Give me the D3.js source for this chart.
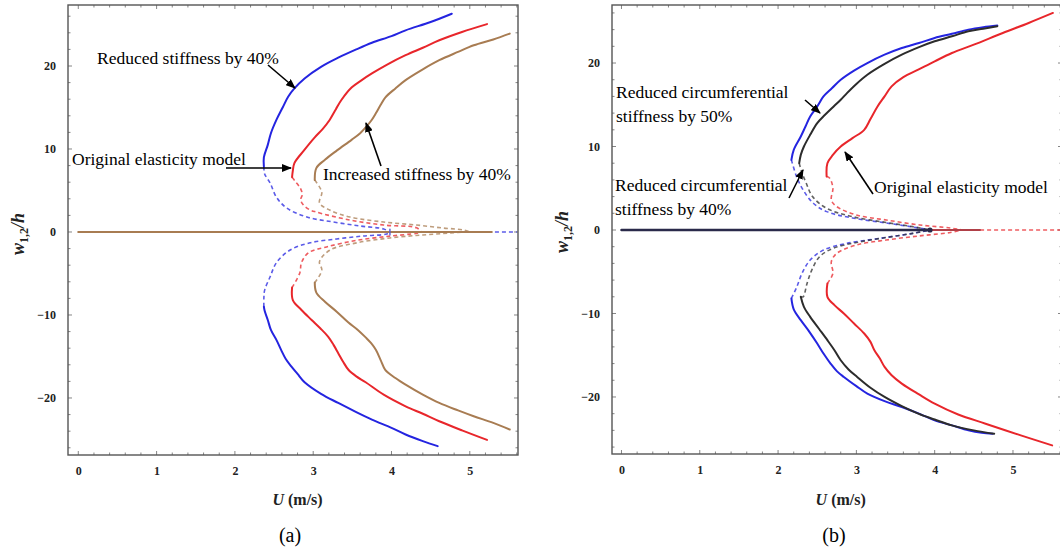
<!DOCTYPE html>
<html>
<head>
<meta charset="utf-8">
<script src="https://cdn.jsdelivr.net/npm/d3@7"></script>
<style>
  body { margin: 0; background: #fff; }
  svg { display: block; }
</style>
</head>
<body>
<div id="container"></div>
<script>
// ticks shared by both panels
const U_TICKS = [0, 1, 2, 3, 4, 5];
const W_TICKS = [-20, -10, 0, 10, 20];

// ---- panel (a), points are [U, w/h] ----
// reduced stiffness by 40% (blue)
const A_BLUE_UP = [[2.37,7.9],[2.37,9.0],[2.42,10.5],[2.46,11.9],[2.53,13.5],[2.61,15],[2.68,16.3],[2.76,17.3],[2.89,18.5],[3.1,19.9],[3.32,21],[3.55,22],[3.75,22.8],[4.0,23.6],[4.18,24.3],[4.5,25.3],[4.77,26.3]];
const A_BLUE_DOWN = [[2.37,-9.0],[2.38,-9.5],[2.42,-10.6],[2.46,-11.8],[2.53,-13.0],[2.59,-14.2],[2.65,-15.3],[2.72,-16.2],[2.8,-17.1],[2.89,-18.1],[3.1,-19.5],[3.32,-20.6],[3.55,-21.7],[3.75,-22.6],[4.0,-23.6],[4.18,-24.4],[4.4,-25.2],[4.59,-25.8]];
const A_BLUE_DASH_UP = [[2.37,7.9],[2.38,7.0],[2.45,5.9],[2.53,4.2],[2.66,2.9],[2.92,1.8],[3.26,1.2],[3.6,0.72],[3.9,0.36],[3.98,0]];
const A_BLUE_DASH_DOWN = [[2.37,-9.0],[2.37,-8.0],[2.38,-7.0],[2.45,-5.4],[2.53,-3.7],[2.7,-2.2],[2.96,-1.3],[3.3,-0.84],[3.64,-0.48],[3.94,-0.24],[3.98,0]];
// original elasticity model (red)
const A_RED_UP = [[2.73,6.6],[2.74,7.4],[2.76,8.3],[2.88,9.8],[3.02,11.4],[3.12,12.4],[3.21,13.5],[3.29,14.8],[3.36,15.9],[3.49,17.4],[3.62,18.3],[3.75,19.1],[3.95,20.2],[4.18,21.3],[4.4,22.2],[4.61,23.1],[4.9,24.1],[5.22,25.05]];
const A_RED_DOWN = [[2.73,-6.7],[2.74,-8.2],[2.85,-9.4],[2.98,-10.6],[3.09,-11.6],[3.19,-12.6],[3.26,-13.6],[3.32,-14.6],[3.38,-15.6],[3.45,-16.6],[3.55,-17.4],[3.67,-18.1],[3.9,-19.6],[4.18,-21],[4.4,-21.9],[4.61,-22.8],[4.9,-23.9],[5.22,-25.05]];
const A_RED_DASH_UP = [[2.73,6.6],[2.78,6.0],[2.84,5.2],[2.86,4.5],[2.84,3.9],[2.87,3.3],[2.95,2.7],[3.04,2.4],[3.47,1.44],[3.9,0.84],[4.32,0.5],[4.38,0]];
const A_RED_DASH_DOWN = [[2.73,-6.7],[2.83,-4.9],[2.85,-3.7],[2.94,-2.5],[3.17,-1.8],[3.56,-1.0],[3.98,-0.5],[4.32,-0.15],[4.38,0]];
// increased stiffness by 40% (brown)
const A_BROWN_UP = [[3.02,6.25],[3.04,7.7],[3.15,8.7],[3.3,9.8],[3.49,11.1],[3.6,11.9],[3.67,12.6],[3.74,13.4],[3.8,14.3],[3.86,15.3],[3.92,16.2],[4.05,17.3],[4.18,18.3],[4.4,19.6],[4.61,20.7],[4.85,21.7],[5.05,22.5],[5.3,23.2],[5.51,23.9]];
const A_BROWN_DOWN = [[3.02,-6.1],[3.04,-7.3],[3.15,-8.4],[3.3,-9.6],[3.45,-10.9],[3.57,-11.8],[3.67,-12.7],[3.74,-13.4],[3.8,-14.2],[3.86,-15.4],[3.92,-16.6],[4.05,-17.6],[4.18,-18.4],[4.4,-19.6],[4.61,-20.6],[4.85,-21.5],[5.05,-22.2],[5.3,-23],[5.51,-23.8]];
const A_BROWN_DASH_UP = [[3.02,6.25],[3.11,4.8],[3.08,3.5],[3.21,2.64],[3.47,1.8],[3.9,1.2],[4.32,0.84],[4.66,0.48],[4.92,0.24],[5.0,0]];
const A_BROWN_DASH_DOWN = [[3.02,-6.1],[3.11,-4.6],[3.08,-3.6],[3.21,-2.2],[3.56,-1.3],[3.98,-0.72],[4.4,-0.36],[4.75,-0.12],[4.92,0]];
// trivial branch w = 0
const A_ZERO_SOLID = [[0,0],[5.28,0]];
const A_ZERO_DASH = [[3.98,0],[5.6,0]];
const A_BLUE_TURN = [[3.98,0.35],[3.98,-0.35]];

// ---- panel (b) ----
// reduced circumferential stiffness by 50% (blue)
const B_BLUE_UP = [[2.17,8.4],[2.2,9.6],[2.29,11.2],[2.35,12.4],[2.41,13.6],[2.5,14.8],[2.58,16],[2.69,17],[2.8,18],[2.97,19.1],[3.14,20],[3.36,21],[3.58,21.8],[3.8,22.4],[4.0,23],[4.22,23.5],[4.43,24],[4.62,24.3],[4.8,24.5]];
const B_BLUE_DOWN = [[2.17,-8.2],[2.2,-9.5],[2.29,-10.8],[2.4,-12.2],[2.5,-13.6],[2.58,-14.8],[2.67,-16],[2.75,-16.9],[2.84,-17.6],[3.0,-18.7],[3.14,-19.6],[3.36,-20.5],[3.58,-21.2],[3.8,-22],[4.0,-22.8],[4.22,-23.4],[4.43,-24],[4.6,-24.3],[4.74,-24.4]];
const B_BLUE_DASH_UP = [[2.17,8.4],[2.24,6.3],[2.32,4.8],[2.45,3.2],[2.62,2.2],[2.95,1.44],[3.38,0.84],[3.72,0.36],[3.94,0]];
const B_BLUE_DASH_DOWN = [[2.17,-8.2],[2.24,-6.8],[2.31,-5.1],[2.41,-3.6],[2.58,-2.4],[2.88,-1.6],[3.3,-1.0],[3.72,-0.4],[3.94,0]];
// reduced circumferential stiffness by 40% (black)
const B_BLACK_UP = [[2.27,8],[2.29,9],[2.33,10],[2.41,11.4],[2.5,12.8],[2.6,13.8],[2.71,14.8],[2.8,15.6],[2.88,16.4],[3.0,17.5],[3.14,18.6],[3.36,19.9],[3.58,21],[3.8,21.9],[4.0,22.6],[4.22,23.2],[4.43,23.8],[4.62,24.1],[4.8,24.4]];
const B_BLACK_DOWN = [[2.29,-8],[2.33,-9.2],[2.41,-10.4],[2.52,-11.8],[2.63,-13.2],[2.72,-14.4],[2.8,-15.6],[2.9,-16.7],[3.01,-17.6],[3.18,-18.9],[3.36,-20],[3.58,-21.1],[3.79,-22],[4.0,-22.7],[4.22,-23.4],[4.5,-24],[4.76,-24.4]];
const B_BLACK_DASH_UP = [[2.27,8],[2.3,7],[2.36,5.6],[2.44,4],[2.62,2.6],[2.95,1.6],[3.38,0.9],[3.72,0.4],[3.94,0]];
const B_BLACK_DASH_DOWN = [[2.29,-8],[2.32,-8],[2.37,-6.4],[2.43,-4.8],[2.53,-3.2],[2.7,-2.2],[3.0,-1.5],[3.38,-0.9],[3.72,-0.4],[3.94,0]];
// original elasticity model (red)
const B_RED_UP = [[2.62,6.4],[2.63,8],[2.7,9],[2.8,10],[2.95,11],[3.1,12],[3.18,13.3],[3.27,14.8],[3.36,16],[3.45,17.2],[3.6,18.3],[3.79,19.2],[4.0,20.2],[4.22,21.2],[4.5,22.2],[4.87,23.6],[5.2,24.8],[5.51,26]];
const B_RED_DOWN = [[2.63,-6.4],[2.63,-8],[2.72,-9],[2.84,-10],[2.97,-11.2],[3.1,-12.4],[3.18,-13.4],[3.23,-14.4],[3.3,-15.4],[3.36,-16.4],[3.45,-17.4],[3.58,-18.4],[3.8,-19.7],[4.0,-20.8],[4.3,-22.1],[4.65,-23.2],[5.1,-24.6],[5.5,-25.8]];
const B_RED_DASH_UP = [[2.62,6.4],[2.66,6.2],[2.7,5],[2.68,3.6],[2.75,2.8],[3.0,1.8],[3.38,1.2],[3.81,0.6],[4.2,0.24],[4.35,0]];
const B_RED_DASH_DOWN = [[2.63,-6.4],[2.7,-5.2],[2.68,-3.8],[2.75,-2.8],[3.0,-1.8],[3.38,-1.2],[3.81,-0.7],[4.2,-0.3],[4.35,0]];
const B_ZERO_SOLID = [[0,0],[3.94,0]];
const B_ZERO_RED = [[3.94,0],[4.58,0]];
const B_ZERO_DASH = [[4.58,0],[5.7,0]];

const W = 1060, H = 553;
const COL = { blue: "#2424e0", red: "#e8262b", brown: "#a87c52", black: "#2c2c2c", navy: "#2a2a4a" };

const svg = d3.select("#container").append("svg")
  .attr("width", W).attr("height", H)
  .style("font-family", "'Liberation Serif', 'Times New Roman', serif");

svg.append("defs").append("marker")
  .attr("id", "arrowhead")
  .attr("markerUnits", "userSpaceOnUse")
  .attr("markerWidth", 10).attr("markerHeight", 8)
  .attr("refX", 9).attr("refY", 4)
  .attr("orient", "auto")
  .append("path").attr("d", "M0,0 L10,4 L0,8 Z").attr("fill", "#000");

function drawPanel(cfg) {
  const x = d3.scaleLinear().domain(cfg.xDomain).range([cfg.left, cfg.right]);
  const y = d3.scaleLinear().domain(cfg.yDomain).range([cfg.bottom, cfg.top]);
  const g = svg.append("g");

  const clipId = "clip" + cfg.name;
  g.append("clipPath").attr("id", clipId).append("rect")
    .attr("x", cfg.left).attr("y", cfg.top)
    .attr("width", cfg.right - cfg.left).attr("height", cfg.bottom - cfg.top);

  // inner tick marks on all four sides of the frame
  const minorU = d3.range(0, 5.61, 0.2);
  const minorW = d3.range(-26, 27, 2);
  const tickLen = (v, step) => Math.abs(v / step - Math.round(v / step)) < 1e-6 ? 4 : 2.5;
  const tk = g.append("g").attr("stroke", "#777").attr("stroke-width", 0.9);
  minorU.forEach(u => {
    const L = tickLen(u, 1);
    tk.append("line").attr("x1", x(u)).attr("x2", x(u)).attr("y1", cfg.bottom).attr("y2", cfg.bottom - L);
    tk.append("line").attr("x1", x(u)).attr("x2", x(u)).attr("y1", cfg.top).attr("y2", cfg.top + L);
  });
  minorW.forEach(w => {
    const L = tickLen(w, 10);
    tk.append("line").attr("y1", y(w)).attr("y2", y(w)).attr("x1", cfg.left).attr("x2", cfg.left + L);
    tk.append("line").attr("y1", y(w)).attr("y2", y(w)).attr("x1", cfg.right).attr("x2", cfg.right - L);
  });

  // tick labels through d3 axes
  const ax = g.append("g").attr("transform", `translate(0,${cfg.bottom})`)
    .call(d3.axisBottom(x).tickValues(U_TICKS).tickSize(0).tickPadding(11).tickFormat(d3.format("d")));
  const ay = g.append("g").attr("transform", `translate(${cfg.left},0)`)
    .call(d3.axisLeft(y).tickValues(W_TICKS).tickSize(0).tickPadding(12).tickFormat(d3.format("d")));
  [ax, ay].forEach(a => {
    a.select(".domain").remove();
    a.selectAll("text").attr("font-family", "'Liberation Serif', serif")
      .attr("font-weight", "bold").attr("font-size", 12).attr("fill", "#222");
  });

  const line = d3.line().x(d => x(d[0])).y(d => y(d[1])).curve(d3.curveCatmullRom.alpha(0.5));
  const plot = g.append("g").attr("clip-path", `url(#${clipId})`);

  cfg.dashed.forEach(s => {
    plot.append("path").datum(s.data).attr("d", line)
      .attr("fill", "none").attr("stroke", s.color).attr("stroke-width", 1.6)
      .attr("stroke-dasharray", "4,3").attr("opacity", 0.75);
  });
  cfg.solid.forEach(s => {
    plot.append("path").datum(s.data).attr("d", line)
      .attr("fill", "none").attr("stroke", s.color).attr("stroke-width", s.width || 2)
      .attr("stroke-linecap", "round");
  });
  (cfg.dots || []).forEach(dd => {
    plot.append("circle").attr("cx", x(dd.data[0])).attr("cy", y(dd.data[1])).attr("r", 2.6).attr("fill", dd.color);
  });

  // frame
  g.append("rect").attr("x", cfg.left).attr("y", cfg.top)
    .attr("width", cfg.right - cfg.left).attr("height", cfg.bottom - cfg.top)
    .attr("fill", "none").attr("stroke", "#555").attr("stroke-width", 1.4);

  // axis titles
  const xt = g.append("text").attr("x", x(2.8)).attr("y", 505)
    .attr("text-anchor", "middle").attr("font-size", 16).attr("font-weight", "bold").attr("fill", "#222");
  xt.append("tspan").attr("font-style", "italic").text("U");
  xt.append("tspan").text(" (m/s)");

  const yt = g.append("text")
    .attr("transform", `translate(${cfg.left - 44},${y(0) + 2}) rotate(-90)`)
    .attr("text-anchor", "middle").attr("font-size", 18).attr("font-weight", "bold").attr("fill", "#222");
  yt.append("tspan").attr("font-style", "italic").text("w");
  yt.append("tspan").attr("font-size", 12).attr("dy", 4).text("1,2");
  yt.append("tspan").attr("font-style", "italic").attr("dy", -4).text("/h");

  g.append("text").attr("x", cfg.captionX).attr("y", 542)
    .attr("text-anchor", "middle").attr("font-size", 20).attr("fill", "#000").text(cfg.caption);

  // annotations
  cfg.notes.forEach(n => {
    n.lines.forEach((t, i) => {
      g.append("text").attr("x", n.x).attr("y", n.y + i * 24).attr("dy", "0.35em")
        .attr("font-size", 17.5).attr("fill", "#000").text(t);
    });
    g.append("line").attr("x1", n.arrow[0]).attr("y1", n.arrow[1])
      .attr("x2", n.arrow[2]).attr("y2", n.arrow[3])
      .attr("stroke", "#000").attr("stroke-width", 1.6).attr("marker-end", "url(#arrowhead)");
  });
}

drawPanel({
  name: "a", caption: "(a)", captionX: 290,
  left: 68, right: 518, top: 5, bottom: 455,
  xDomain: [-0.1315, 5.6156], yDomain: [-26.87, 27.35],
  dashed: [
    { data: A_BLUE_DASH_UP, color: COL.blue }, { data: A_BLUE_DASH_DOWN, color: COL.blue },
    { data: A_ZERO_DASH, color: COL.blue },
    { data: A_RED_DASH_UP, color: COL.red }, { data: A_RED_DASH_DOWN, color: COL.red },
    { data: A_BROWN_DASH_UP, color: COL.brown }, { data: A_BROWN_DASH_DOWN, color: COL.brown }
  ],
  solid: [
    { data: A_BLUE_UP, color: COL.blue }, { data: A_BLUE_DOWN, color: COL.blue },
    { data: A_RED_UP, color: COL.red }, { data: A_RED_DOWN, color: COL.red },
    { data: A_BROWN_UP, color: COL.brown }, { data: A_BROWN_DOWN, color: COL.brown },
    { data: A_ZERO_SOLID, color: COL.brown, width: 2.2 },
    { data: A_BLUE_TURN, color: "#5a5ad0", width: 1.4 }
  ],
  notes: [
    { x: 97, y: 58, lines: ["Reduced stiffness by 40%"], arrow: [268, 65, 295, 88] },
    { x: 72, y: 159, lines: ["Original elasticity model"], arrow: [226, 168, 291, 168] },
    { x: 323, y: 174, lines: ["Increased stiffness by 40%"], arrow: [381, 166, 366, 123] }
  ]
});

drawPanel({
  name: "b", caption: "(b)", captionX: 834,
  left: 612, right: 1062, top: 5, bottom: 454,
  xDomain: [-0.121, 5.626], yDomain: [-26.83, 26.95],
  dashed: [
    { data: B_BLUE_DASH_UP, color: COL.blue }, { data: B_BLUE_DASH_DOWN, color: COL.blue },
    { data: B_BLACK_DASH_UP, color: COL.black }, { data: B_BLACK_DASH_DOWN, color: COL.black },
    { data: B_RED_DASH_UP, color: COL.red }, { data: B_RED_DASH_DOWN, color: COL.red },
    { data: B_ZERO_DASH, color: COL.red }
  ],
  solid: [
    { data: B_BLUE_UP, color: COL.blue }, { data: B_BLUE_DOWN, color: COL.blue },
    { data: B_BLACK_UP, color: COL.black }, { data: B_BLACK_DOWN, color: COL.black },
    { data: B_RED_UP, color: COL.red }, { data: B_RED_DOWN, color: COL.red },
    { data: B_ZERO_RED, color: "#b04048", width: 1.8 },
    { data: B_ZERO_SOLID, color: COL.navy, width: 2.4 }
  ],
  dots: [{ data: [3.94, 0], color: COL.navy }],
  notes: [
    { x: 616, y: 92, lines: ["Reduced circumferential", "stiffness by 50%"], arrow: [805, 100, 820, 113] },
    { x: 615, y: 185, lines: ["Reduced circumferential", "stiffness by 40%"], arrow: [789, 198, 803, 170] },
    { x: 874, y: 187, lines: ["Original elasticity model"], arrow: [873, 194, 845, 152] }
  ]
});
</script>
</body>
</html>
